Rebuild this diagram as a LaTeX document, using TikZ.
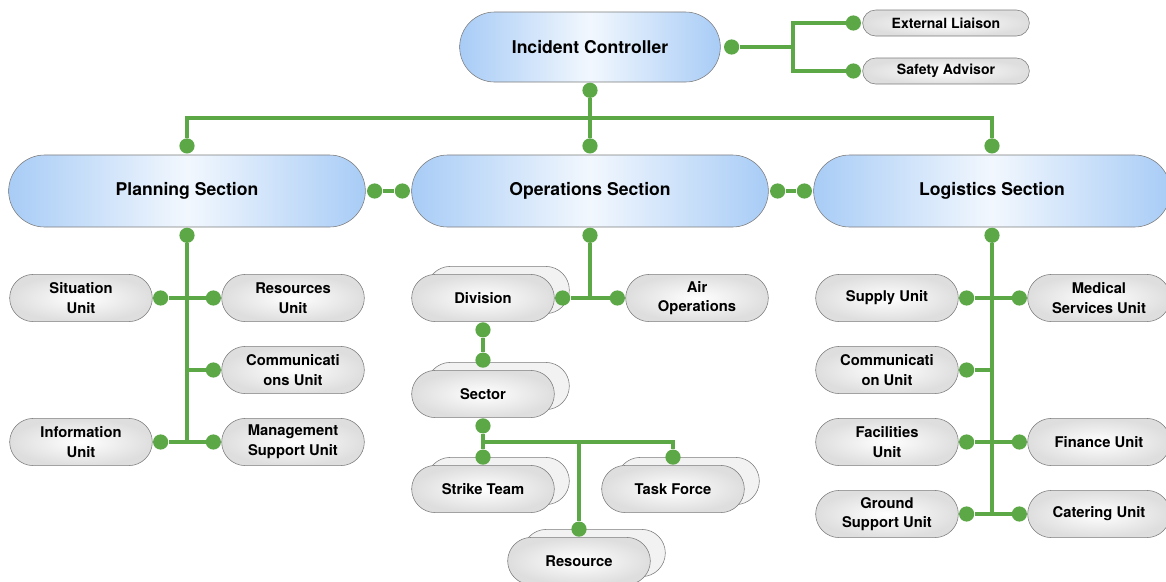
\documentclass[tikz,border=0pt]{standalone}
\usepackage{fontspec}
\setmainfont{TeX Gyre Heros}
\usetikzlibrary{positioning, shapes.misc, shadows}
\definecolor{linkGreen}{HTML}{5CA846}
\definecolor{sectBlue}{HTML}{A8CCF6}
\definecolor{edgeGray}{HTML}{7C7C7C}

\tikzset{
    section/.style={rounded rectangle, draw=edgeGray, left color=sectBlue, right color=sectBlue,
        middle color=white!85!sectBlue, minimum width=9.15cm, minimum height=1.8cm,
        font=\fontsize{12.5}{15}\selectfont\bfseries},
    unitbox/.style={rounded rectangle, draw=edgeGray, inner color=white, outer color=gray!26,
        minimum width=3.8cm, minimum height=1.18cm, align=center,
        font=\fontsize{10.5}{14}\selectfont\bfseries},
    stacked/.style={unitbox, copy shadow={shadow xshift=0.375cm, shadow yshift=0.2cm,
        draw=edgeGray, fill=gray!10}},
    adviser/.style={rounded rectangle, draw=edgeGray, inner color=white, outer color=gray!26,
        minimum width=4.4cm, minimum height=0.65cm, font=\fontsize{10}{12}\selectfont\bfseries},
    link/.style={draw=linkGreen, line width=2.8pt},
    dot/.style={circle, fill=linkGreen, inner sep=0pt, minimum size=0.38cm},
}

\begin{document}
\begin{tikzpicture}[x=0.025cm, y=-0.025cm]
    \useasboundingbox (0,0) rectangle (1166,581);

    % top level
    \node[section, minimum width=6.75cm, minimum height=1.75cm] (ic) at (590,47) {Incident Controller};
    \node[adviser] (ext) at (946,23) {External Liaison};
    \node[adviser] (saf) at (946,71) {Safety Advisor};

    % sections
    \node[section] (plan) at (187,191) {Planning Section};
    \node[section] (ops) at (590,191) {Operations Section};
    \node[section] (log) at (992,191) {Logistics Section};

    % planning units
    \node[unitbox] (sit) at (81,298) {Situation\\Unit};
    \node[unitbox] (res) at (293,298) {Resources\\Unit};
    \node[unitbox] (com) at (293,370) {Communicati\\ons Unit};
    \node[unitbox] (inf) at (81,442) {Information\\Unit};
    \node[unitbox] (mgt) at (293,442) {Management\\Support Unit};

    % operations units
    \node[stacked] (div) at (483,298) {Division};
    \node[unitbox] (air) at (697,298) {Air\\Operations};
    \node[stacked] (sec) at (483,394) {Sector};
    \node[stacked] (stk) at (483,489) {Strike Team};
    \node[stacked] (tsk) at (673,489) {Task Force};
    \node[stacked] (rsc) at (579,561) {Resource};

    % logistics units
    \node[unitbox] (sup) at (887,298) {Supply Unit};
    \node[unitbox] (med) at (1099,298) {Medical\\Services Unit};
    \node[unitbox] (lcm) at (887,370) {Communicati\\on Unit};
    \node[unitbox] (fac) at (887,442) {Facilities\\Unit};
    \node[unitbox] (fin) at (1099,442) {Finance Unit};
    \node[unitbox] (gnd) at (887,514) {Ground\\Support Unit};
    \node[unitbox] (cat) at (1099,514) {Catering Unit};

    % end dots
    \node[dot] (icR) at ([xshift=0.275cm]ic.east) {};
    \node[dot] (icS) at ([yshift=-0.2cm]ic.south) {};
    \node[dot] (extW) at ([xshift=-0.225cm]ext.west) {};
    \node[dot] (safW) at ([xshift=-0.225cm]saf.west) {};
    \foreach \s in {plan, ops, log} {
        \node[dot] (\s N) at ([yshift=0.22cm]\s.north) {};
        \node[dot] (\s S) at ([yshift=-0.2cm]\s.south) {};
    }
    \node[dot] (planE) at ([xshift=0.225cm]plan.east) {};
    \node[dot] (opsW) at ([xshift=-0.225cm]ops.west) {};
    \node[dot] (opsE) at ([xshift=0.225cm]ops.east) {};
    \node[dot] (logW) at ([xshift=-0.225cm]log.west) {};
    \foreach \u in {sit, inf, div, sup, lcm, fac, gnd}
        \node[dot] (\u E) at ([xshift=0.2cm]\u.east) {};
    \foreach \u in {res, com, mgt, air, med, fin, cat}
        \node[dot] (\u W) at ([xshift=-0.2cm]\u.west) {};
    \node[dot] (divS) at ([yshift=-0.2cm]div.south) {};
    \node[dot] (secN) at ([yshift=0.25cm]sec.north) {};
    \node[dot] (secS) at ([yshift=-0.2cm]sec.south) {};
    \foreach \u in {stk, tsk, rsc}
        \node[dot] (\u N) at ([yshift=0.2cm]\u.north) {};

    % connectors
    \draw[link] (icR) -- ++(61,0) coordinate (split) |- (extW);
    \draw[link] (split) |- (safW);
    \draw[link] (icS) -- ++(0,28) coordinate (bus);
    \draw[link] (bus) -| (planN);
    \draw[link] (bus) -| (logN);
    \draw[link] (bus) -- (opsN);
    \draw[link] (planE) -- (opsW);
    \draw[link] (opsE) -- (logW);

    \draw[link] (planS) -- (planS |- infE);
    \draw[link] (sitE) -- (resW);
    \draw[link] (planS |- comW) -- (comW);
    \draw[link] (infE) -- (mgtW);

    \draw[link] (opsS) -- (opsS |- divE);
    \draw[link] (divE) -- (airW);
    \draw[link] (divS) -- (secN);
    \draw[link] (secS) -- ++(0,16) coordinate (fork) -| (tskN);
    \draw[link] (fork) -- (stkN);
    \draw[link] (fork -| rscN) -- (rscN);

    \draw[link] (logS) -- (logS |- gndE);
    \draw[link] (supE) -- (medW);
    \draw[link] (lcmE) -- (logS |- lcmE);
    \draw[link] (facE) -- (finW);
    \draw[link] (gndE) -- (catW);
\end{tikzpicture}
\end{document}
